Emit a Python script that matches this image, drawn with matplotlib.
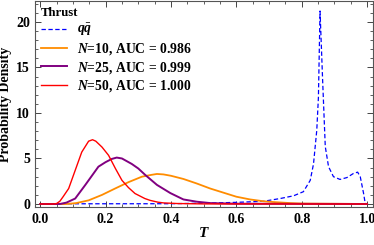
import matplotlib
matplotlib.use("Agg")
import matplotlib.pyplot as plt
from matplotlib.ticker import MultipleLocator

plt.rcParams['font.family'] = ['Liberation Serif', 'DejaVu Serif']
plt.rcParams['font.weight'] = 'bold'
plt.rcParams['mathtext.fontset'] = 'custom'
plt.rcParams['mathtext.rm'] = 'Liberation Serif:bold'
plt.rcParams['mathtext.it'] = 'Liberation Serif:bold:italic'
plt.rcParams['mathtext.bf'] = 'Liberation Serif:bold'

# qq-bar (dashed blue)
t_qq = [0, 0.4, 0.52, 0.6, 0.683, 0.734, 0.775, 0.805, 0.826, 0.836, 0.846, 0.851,
        0.856, 0.864, 0.872, 0.882, 0.897, 0.917, 0.938, 0.958, 0.971, 0.979, 0.989, 0.994, 1.0]
p_qq = [0.02, 0.03, 0.1, 0.18, 0.3, 0.6, 0.9, 1.35, 2.6, 4.4, 8.1, 11.7,
        21.2, 13.5, 6.3, 4.1, 3.0, 2.7, 2.9, 3.35, 3.5, 3.0, 1.2, 0.1, 0]

# N = 10
t_10 = [0, 0.08, 0.11, 0.148, 0.189, 0.229, 0.27, 0.311, 0.34, 0.357, 0.377, 0.4,
        0.438, 0.479, 0.52, 0.56, 0.6, 0.642, 0.683, 0.72, 0.765, 0.8, 1.0]
p_10 = [0, 0, 0.1, 0.4, 1.0, 1.7, 2.4, 3.0, 3.2, 3.3, 3.25, 3.1,
        2.75, 2.25, 1.7, 1.25, 0.8, 0.5, 0.3, 0.2, 0.1, 0.05, 0]

# N = 25
t_25 = [0, 0.06, 0.08, 0.107, 0.138, 0.16, 0.178, 0.2, 0.219, 0.234, 0.25, 0.28,
        0.3, 0.321, 0.357, 0.398, 0.438, 0.479, 0.52, 0.6, 1.0]
p_25 = [0, 0, 0.15, 0.6, 2.1, 3.2, 4.1, 4.6, 4.95, 5.1, 5.0, 4.4,
        3.9, 3.2, 2.1, 1.2, 0.5, 0.25, 0.1, 0.03, 0]

# N = 50
t_50 = [0, 0.04, 0.05, 0.06, 0.07, 0.087, 0.107, 0.127, 0.148, 0.16, 0.17, 0.189,
        0.209, 0.23, 0.25, 0.27, 0.29, 0.32, 0.336, 0.36, 0.377, 0.42, 0.5, 1.0]
p_50 = [0, 0, 0.05, 0.3, 0.8, 1.7, 3.7, 5.7, 6.9, 7.06, 6.9, 6.25,
        5.35, 3.9, 2.6, 1.8, 1.15, 0.6, 0.4, 0.2, 0.12, 0.05, 0.01, 0]

labels = [r'$q\bar{q}$', r'$N$=10, AUC = 0.986', r'$N$=25, AUC = 0.999', r'$N$=50, AUC = 1.000']

fig = plt.figure(figsize=(3.74, 2.45), dpi=100)
ax = fig.add_axes([35/374, 38/245, 338/374, 206/245])

ax.plot(t_qq, p_qq, color='#0000ff', lw=0.9, dashes=(3.5, 2), label=labels[0])
ax.plot(t_10, p_10, color='#ff8c00', lw=1.3, label=labels[1])
ax.plot(t_25, p_25, color='#800080', lw=1.4, label=labels[2])
ax.plot(t_50, p_50, color='#ff0000', lw=1.0, label=labels[3])

ax.set_xlim(-0.016, 1.018)
ax.set_ylim(-0.33, 22.3)
ax.xaxis.set_major_locator(MultipleLocator(0.2))
ax.xaxis.set_minor_locator(MultipleLocator(0.05))
ax.yaxis.set_major_locator(MultipleLocator(5))
ax.yaxis.set_minor_locator(MultipleLocator(1))
ax.tick_params(which='both', direction='in', top=True, right=True, labelsize=10, color='#444444')
ax.tick_params(which='major', length=4, width=0.7)
ax.tick_params(which='minor', length=2, width=0.6)
ax.tick_params(axis='x', pad=4)
ax.set_xticks([0.0, 0.2, 0.4, 0.6, 0.8, 1.0])
ax.set_xticklabels(['0.0', '0.2', '0.4', '0.6', '0.8', '1.0'])
for s in ax.spines.values():
    s.set_color('#555555')
    s.set_linewidth(0.8)

ax.set_xlabel(r'$T$', fontsize=11, labelpad=0)
ax.set_ylabel('Probability Density', fontsize=10, fontweight='bold', labelpad=3)

leg = ax.legend(title='Thrust', loc='upper left', bbox_to_anchor=(0.0, 1.0), frameon=False,
                prop={'size': 9.8, 'weight': 'bold'}, title_fontproperties={'size': 9.2, 'weight': 'bold'},
                handlelength=1.9, handletextpad=0.75, labelspacing=0.2, borderpad=0.25,
                borderaxespad=0.2, alignment='left')

fig.savefig('out.png', dpi=100)
